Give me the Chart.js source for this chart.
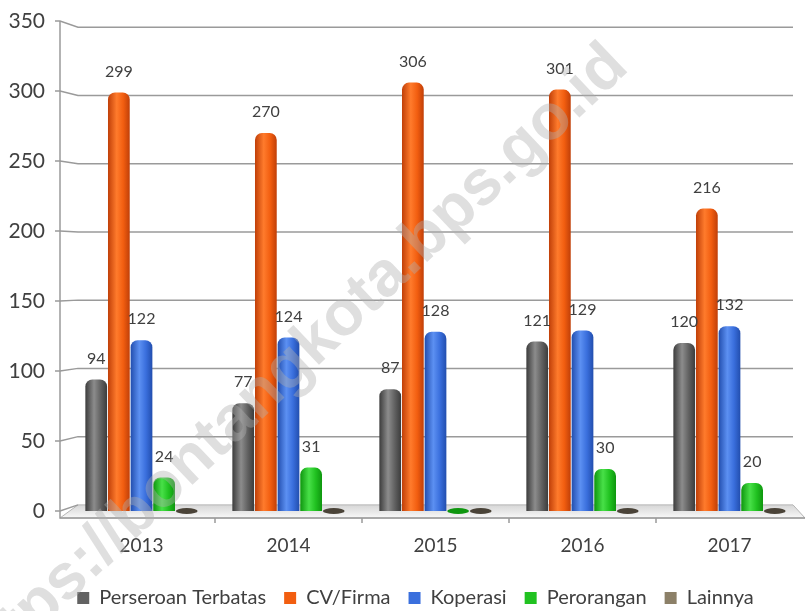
<!DOCTYPE html>
<html>
<head>
<meta charset="utf-8">
<script src="https://cdn.jsdelivr.net/npm/chart.js@4/dist/chart.umd.min.js"></script>
<style>
  html, body { margin: 0; padding: 0; background: #fff; }
  #wrap { width: 810px; height: 611px; }
</style>
</head>
<body>
<div id="wrap"><canvas id="grafik" width="810" height="611"></canvas></div>
<script>
// data badan usaha per tahun
const tahun = ['2013', '2014', '2015', '2016', '2017'];
const perseroanTerbatas = [94, 77, 87, 121, 120];
const cvFirma = [299, 270, 306, 301, 216];
const koperasi = [122, 124, 128, 129, 132];
const perorangan = [24, 31, 0, 30, 20];
const lainnya = [0, 0, 0, 0, 0];
const yMaks = 350;
const yLangkah = 50;

// warna silinder: [gelap, terang, dasar]
const nuansa = [
  ['#3c3c3c', '#8c8c8c', '#626262'],
  ['#c03f08', '#ff7b2c', '#f25e10'],
  ['#224eae', '#5c90f2', '#3a6fdd'],
  ['#0e960e', '#48e048', '#21c221'],
  ['#4a4338', '#b3a487', '#8c8068'],
];

const teksWarna = '#404040';
Chart.defaults.font.family = 'Lato';

const efek3D = {
  id: 'efek3D',
  afterLayout(chart) {
    // legenda sedikit ke kanan seperti aslinya
    chart.legend.left += 14;
    chart.legend.right += 14;
  },
  beforeDatasetsDraw(chart) {
    const { ctx, chartArea: a, scales: { x, y } } = chart;
    const y0 = y.getPixelForValue(0);
    const mid = (a.top + a.bottom) / 2;
    const belakang = v => mid + (y.getPixelForValue(v) - mid) * 0.975;
    const depanX = a.left - 8, blkKiri = a.left + 10, blkKanan = a.right - 10, depanKanan = a.right + 2;

    ctx.save();
    // lantai
    ctx.beginPath();
    ctx.moveTo(blkKiri, belakang(0));
    ctx.lineTo(blkKanan, belakang(0));
    ctx.lineTo(depanKanan, y0 + 7);
    ctx.lineTo(depanX, y0 + 7);
    ctx.closePath();
    const gl = ctx.createLinearGradient(0, belakang(0), 0, y0 + 7);
    gl.addColorStop(0, '#d6d6d6');
    gl.addColorStop(1, '#f8f8f8');
    ctx.fillStyle = gl;
    ctx.fill();
    ctx.strokeStyle = '#b4b4b4';
    ctx.lineWidth = 1;
    ctx.stroke();

    // garis grid
    ctx.strokeStyle = '#9a9a9a';
    ctx.lineWidth = 1.5;
    y.ticks.forEach(t => {
      const yf = y.getPixelForValue(t.value), yb = belakang(t.value);
      ctx.beginPath();
      ctx.moveTo(depanX - 5, yf);
      ctx.lineTo(depanX, yf);
      ctx.lineTo(blkKiri, yb);
      if (t.value > 0) ctx.lineTo(blkKanan, yb);
      ctx.stroke();
    });
    // sumbu depan
    ctx.beginPath();
    ctx.moveTo(depanX, y.getPixelForValue(yMaks));
    ctx.lineTo(depanX, y0 + 7);
    ctx.lineTo(depanKanan, y0 + 7);
    ctx.stroke();
    for (let i = 1; i < x.ticks.length; i++) {
      const px = (x.getPixelForValue(i - 1) + x.getPixelForValue(i)) / 2;
      ctx.beginPath();
      ctx.moveTo(px, y0 + 7);
      ctx.lineTo(px, y0 + 12);
      ctx.stroke();
    }
    ctx.restore();

    // gradasi silinder
    chart.data.datasets.forEach((ds, di) => {
      const [gelap, terang, dasar] = nuansa[di];
      chart.getDatasetMeta(di).data.forEach(el => {
        const w = el.width;
        const g = ctx.createLinearGradient(el.x - w / 2, 0, el.x + w / 2, 0);
        g.addColorStop(0, gelap);
        g.addColorStop(0.4, terang);
        g.addColorStop(0.7, dasar);
        g.addColorStop(1, gelap);
        el.options = Object.assign({}, el.options, { backgroundColor: g });
      });
    });
  },
  afterDatasetsDraw(chart) {
    const { ctx, scales: { y } } = chart;
    const y0 = y.getPixelForValue(0);
    ctx.save();
    chart.data.datasets.forEach((ds, di) => {
      chart.getDatasetMeta(di).data.forEach((el, i) => {
        const v = ds.data[i];
        if (v === 0) {
          ctx.beginPath();
          ctx.ellipse(el.x, y0, el.width / 2, 3, 0, 0, Math.PI * 2);
          ctx.fillStyle = nuansa[di][0];
          ctx.fill();
        } else {
          ctx.font = '16px Lato';
          ctx.fillStyle = teksWarna;
          ctx.textAlign = 'center';
          ctx.textBaseline = 'middle';
          ctx.fillText(String(v), el.x, el.y - 21);
        }
      });
    });
    ctx.restore();
  },
  afterDraw(chart) {
    const { ctx } = chart;
    const teks = 'https://bontangkota.bps.go.id';
    ctx.save();
    ctx.font = 'bold 60px "Liberation Sans"';
    const skala = 893 / ctx.measureText(teks).width;
    ctx.font = 'bold ' + Math.round(60 * skala) + 'px "Liberation Sans"';
    ctx.translate(292, 366);
    ctx.rotate(-43.5 * Math.PI / 180);
    ctx.fillStyle = 'rgba(175,175,175,0.4)';
    ctx.textAlign = 'center';
    ctx.textBaseline = 'middle';
    ctx.fillText(teks, 0, 0);
    ctx.restore();
  }
};

const seri = [
  ['Perseroan Terbatas', perseroanTerbatas],
  ['CV/Firma', cvFirma],
  ['Koperasi', koperasi],
  ['Perorangan', perorangan],
  ['Lainnya', lainnya],
];

new Chart(document.getElementById('grafik'), {
  type: 'bar',
  data: {
    labels: tahun,
    datasets: seri.map(([nama, nilai], i) => ({
      label: nama,
      data: nilai,
      backgroundColor: nuansa[i][2],
      borderWidth: 0,
      borderRadius: { topLeft: 7, topRight: 7 },
      categoryPercentage: 0.77,
      barPercentage: 0.96,
    })),
  },
  options: {
    responsive: false,
    animation: false,
    layout: { padding: { top: 21, right: 7, bottom: -7, left: 0 } },
    plugins: {
      tooltip: { enabled: false },
      legend: {
        position: 'bottom',
        labels: {
          boxWidth: 12,
          boxHeight: 12,
          padding: 18,
          color: teksWarna,
          font: { size: 20 },
        },
      },
    },
    scales: {
      x: {
        grid: { display: false },
        border: { display: false },
        ticks: { padding: 15, color: teksWarna, font: { size: 19 } },
        afterFit(s) { s.height = 59; },
      },
      y: {
        min: 0,
        max: yMaks,
        grid: { display: false },
        border: { display: false },
        ticks: { stepSize: yLangkah, padding: 15, color: teksWarna, font: { size: 21 } },
        afterFit(s) { s.width = 68; s.paddingTop = 0; s.paddingBottom = 0; },
      },
    },
  },
  plugins: [efek3D],
});
</script>
</body>
</html>
